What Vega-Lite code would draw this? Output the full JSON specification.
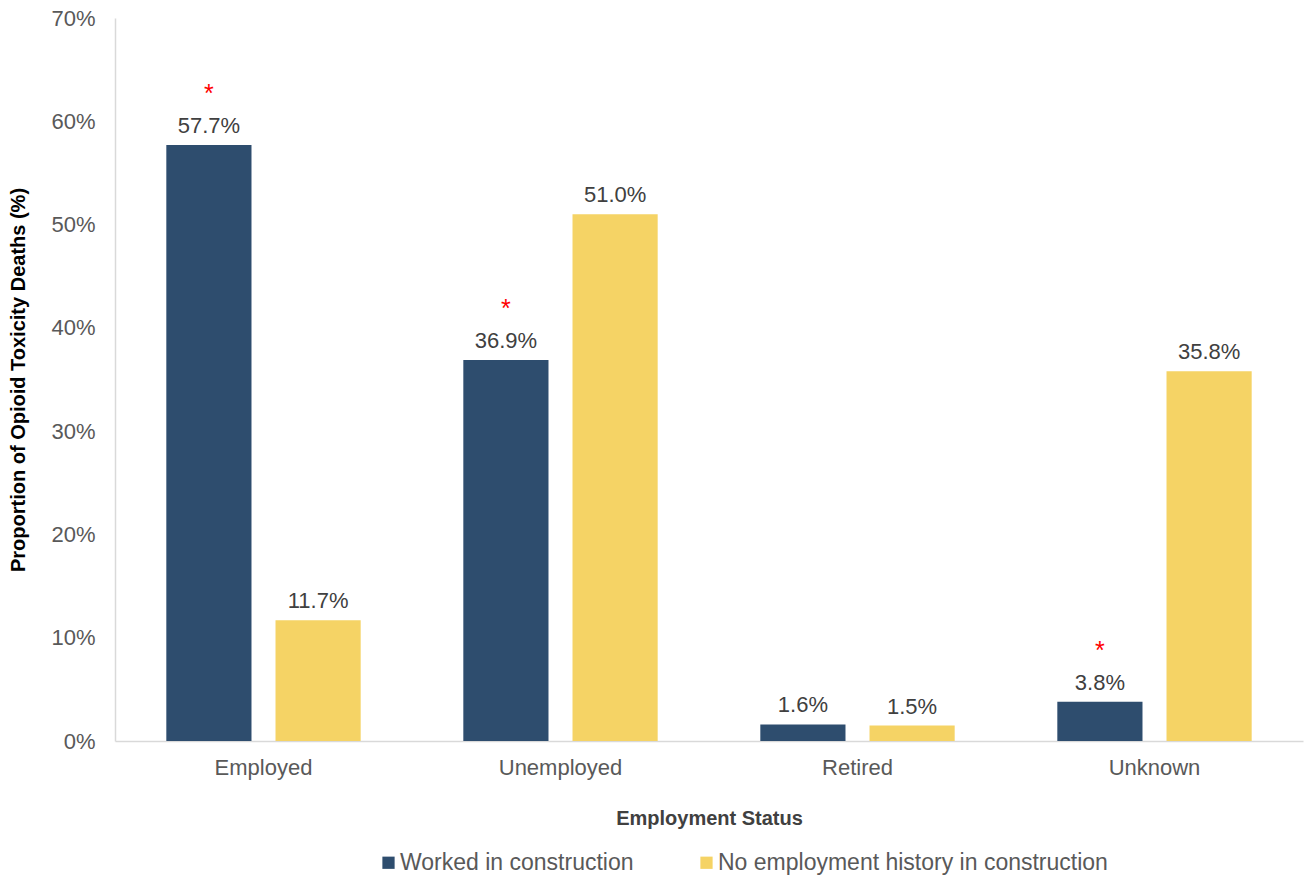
{
  "$schema": "https://vega.github.io/schema/vega-lite/v6.json",
  "autosize": {"type": "none"},
  "padding": {"left": 115, "top": 18, "right": 1, "bottom": 136},
  "width": 1188,
  "height": 723,
  "background": "white",
  "config": {
    "font": "Liberation Sans",
    "view": {"stroke": null},
    "axis": {"grid": false, "ticks": false, "domainColor": "#d9d9d9", "domainWidth": 1.5}
  },
  "data": {
    "values": [
      {"status": "Employed", "group": "Worked in construction", "value": 0.577, "sig": "*"},
      {"status": "Employed", "group": "No employment history in construction", "value": 0.117, "sig": ""},
      {"status": "Unemployed", "group": "Worked in construction", "value": 0.369, "sig": "*"},
      {"status": "Unemployed", "group": "No employment history in construction", "value": 0.510, "sig": ""},
      {"status": "Retired", "group": "Worked in construction", "value": 0.016, "sig": ""},
      {"status": "Retired", "group": "No employment history in construction", "value": 0.015, "sig": ""},
      {"status": "Unknown", "group": "Worked in construction", "value": 0.038, "sig": "*"},
      {"status": "Unknown", "group": "No employment history in construction", "value": 0.358, "sig": ""}
    ]
  },
  "encoding": {
    "x": {
      "field": "status", "type": "nominal",
      "sort": ["Employed", "Unemployed", "Retired", "Unknown"],
      "scale": {"paddingInner": 0, "paddingOuter": 0},
      "axis": {
        "title": "Employment Status", "labelAngle": 0,
        "labelFontSize": 22, "labelColor": "#595959", "labelPadding": 16,
        "titleFontSize": 20, "titleFontWeight": "bold", "titleColor": "#404040", "titlePadding": 30
      }
    },
    "xOffset": {
      "field": "group", "type": "nominal",
      "sort": ["Worked in construction", "No employment history in construction"],
      "scale": {"paddingInner": 0.22, "paddingOuter": 0.47}
    },
    "y": {
      "field": "value", "type": "quantitative",
      "scale": {"domain": [0, 0.7], "nice": false},
      "axis": {
        "title": "Proportion of Opioid Toxicity Deaths (%)",
        "format": ".0%", "values": [0, 0.1, 0.2, 0.3, 0.4, 0.5, 0.6, 0.7],
        "labelFontSize": 22, "labelColor": "#595959", "labelPadding": 20,
        "titleFontSize": 20, "titleFontWeight": "bold", "titleColor": "#000000", "titlePadding": 22
      }
    }
  },
  "layer": [
    {
      "mark": {"type": "bar"},
      "encoding": {
        "color": {
          "field": "group", "type": "nominal",
          "sort": ["Worked in construction", "No employment history in construction"],
          "scale": {"domain": ["Worked in construction", "No employment history in construction"], "range": ["#2E4D6E", "#F5D365"]},
          "legend": {
            "title": null, "orient": "none", "direction": "horizontal",
            "legendX": 262, "legendY": 833,
            "symbolType": "square", "symbolSize": 150, "symbolStrokeWidth": 0,
            "labelFontSize": 23, "labelColor": "#595959", "labelOffset": 0,
            "columnPadding": 61, "labelLimit": 600
          }
        }
      }
    },
    {
      "mark": {"type": "text", "fontSize": 22, "color": "#404040", "baseline": "alphabetic", "dy": -12},
      "encoding": {"text": {"field": "value", "type": "quantitative", "format": ".1%"}}
    },
    {
      "mark": {"type": "text", "fontSize": 25, "color": "#FF0000", "baseline": "alphabetic", "dy": -43},
      "encoding": {"text": {"field": "sig", "type": "nominal"}}
    }
  ]
}
